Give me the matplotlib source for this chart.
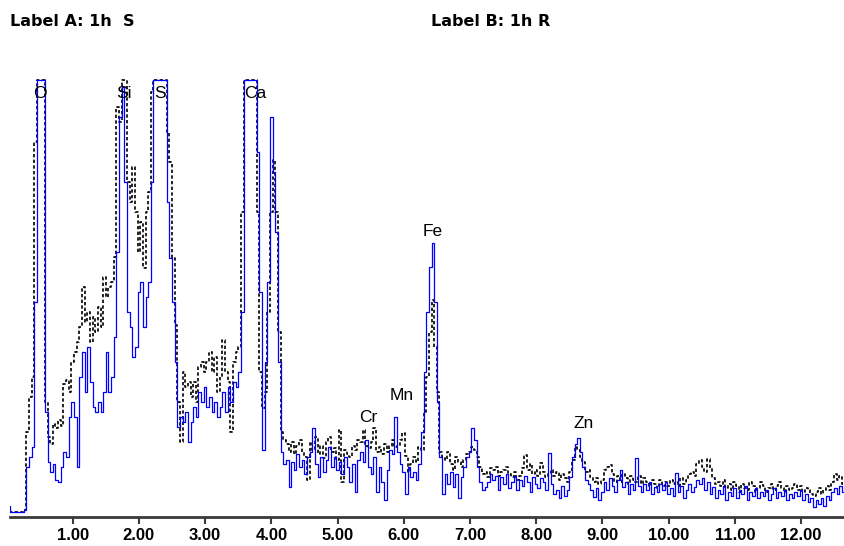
import numpy as np
import matplotlib.pyplot as plt

# --- spectrum channels ---
E_START = 0.04   # keV of first channel
E_STEP = 0.04    # keV per channel
CEIL = 432       # display ceiling, taller peaks get cut flat like the EDS screen

# counts per channel (black dashed = Label A, blue = Label B)
counts_a = [
    0, 0, 0, 0, 0, 0, 2, 80, 115, 135, 370, 1000, 1150, 1000, 110, 75, 68, 88, 84, 92, 86, 128, 132, 120, 150,
    160, 170, 185, 225, 190, 200, 170, 195, 180, 205, 185, 235, 215, 225, 230, 255, 405, 390, 520, 440, 330, 310, 345, 300, 260,
    290, 244, 300, 320, 420, 740, 800, 780, 700, 470, 380, 350, 254, 187, 110, 70, 140, 125, 130, 115, 130, 110, 145, 150, 140,
    150, 160, 140, 155, 120, 135, 172, 140, 130, 80, 150, 160, 165, 300, 700, 780, 800, 760, 620, 300, 140, 104, 120, 200, 300,
    352, 300, 180, 80, 72, 68, 60, 70, 58, 66, 72, 60, 55, 32, 70, 62, 75, 58, 66, 54, 70, 75, 60, 64, 52,
    82, 30, 62, 58, 55, 66, 62, 72, 70, 82, 66, 64, 70, 84, 60, 65, 58, 68, 60, 66, 72, 65, 66, 72, 79,
    56, 40, 48, 55, 50, 65, 62, 100, 135, 180, 212, 165, 120, 60, 55, 52, 60, 48, 42, 55, 50, 45, 52, 58, 60,
    65, 62, 55, 45, 38, 40, 35, 44, 42, 45, 36, 40, 42, 45, 38, 35, 40, 32, 36, 44, 57, 42, 48, 38, 42,
    36, 49, 40, 35, 38, 42, 36, 40, 32, 38, 34, 30, 40, 52, 65, 62, 55, 50, 40, 42, 35, 30, 34, 28, 32,
    42, 45, 47, 38, 30, 36, 30, 38, 34, 28, 36, 32, 30, 36, 28, 34, 30, 26, 32, 28, 24, 32, 26, 30, 26,
    32, 28, 30, 26, 34, 28, 32, 38, 40, 36, 48, 52, 45, 40, 53, 44, 34, 28, 30, 26, 32, 24, 28, 22, 30,
    26, 20, 28, 24, 22, 30, 26, 20, 24, 30, 26, 20, 24, 28, 22, 26, 30, 24, 20, 26, 22, 24, 28, 22, 26,
    20, 24, 22, 18, 16, 20, 24, 18, 22, 26, 22, 30, 38, 32, 36, 28,
]
counts_b = [
    6, 0, 0, 0, 0, 0, 2, 45, 55, 65, 210, 950, 1100, 980, 100, 50, 40, 48, 32, 30, 45, 60, 55, 95, 110,
    95, 45, 135, 160, 120, 165, 130, 105, 100, 110, 100, 120, 160, 120, 135, 175, 260, 395, 425, 330, 200, 185, 155, 165, 220,
    230, 185, 215, 230, 330, 780, 860, 840, 720, 460, 310, 254, 210, 150, 85, 95, 90, 100, 70, 90, 105, 95, 120, 110, 125,
    105, 115, 100, 110, 95, 105, 120, 100, 125, 110, 130, 125, 140, 200, 640, 720, 760, 700, 580, 360, 220, 62, 150, 230, 395,
    340, 280, 150, 60, 48, 52, 25, 50, 42, 58, 45, 52, 38, 55, 60, 84, 48, 35, 55, 40, 52, 65, 45, 55, 42,
    50, 38, 55, 45, 30, 48, 20, 52, 60, 50, 72, 45, 38, 55, 20, 45, 30, 12, 42, 62, 58, 95, 60, 48, 40,
    18, 45, 35, 40, 32, 48, 80, 140, 200, 245, 269, 210, 110, 55, 18, 38, 28, 40, 25, 38, 14, 35, 45, 55, 60,
    84, 72, 45, 30, 22, 25, 30, 38, 32, 36, 22, 35, 28, 38, 24, 30, 36, 22, 32, 26, 36, 30, 20, 35, 28,
    24, 34, 30, 22, 59, 28, 18, 22, 14, 26, 16, 22, 35, 55, 68, 74, 60, 45, 32, 28, 22, 15, 24, 12, 20,
    30, 22, 34, 26, 20, 32, 42, 25, 30, 18, 28, 22, 54, 26, 20, 28, 22, 30, 18, 25, 20, 28, 22, 30, 18,
    24, 16, 39, 20, 26, 14, 22, 28, 20, 25, 32, 28, 34, 22, 30, 18, 25, 14, 22, 18, 26, 12, 20, 16, 24,
    14, 22, 18, 26, 12, 20, 16, 24, 14, 20, 16, 22, 12, 18, 24, 14, 20, 16, 22, 12, 18, 14, 20, 16, 22,
    12, 18, 10, 14, 5, 12, 8, 14, 6, 16, 12, 20, 24, 18, 26, 20,
]

tick_kev = [1, 2, 3, 4, 5, 6, 7, 8, 9, 10, 11, 12]
tick_labels = ["1.00", "2.00", "3.00", "4.00", "5.00", "6.00",
               "7.00", "8.00", "9.00", "10.00", "11.00", "12.00"]

elements = ["O", "Si", "S", "Ca", "Cr", "Mn", "Fe", "Zn"]
element_kev = [0.51, 1.78, 2.32, 3.75, 5.47, 5.97, 6.44, 8.71]
element_h = [418, 418, 418, 418, 94, 116, 280, 88]

header_a = "Label A: 1h  S"
header_b = "Label B: 1h R"

# --- plot ---
energy = E_START + E_STEP * np.arange(len(counts_a))
shown_a = np.minimum(np.array(counts_a), CEIL)
shown_b = np.minimum(np.array(counts_b), CEIL)

W, H = 845, 546
fig = plt.figure(figsize=(W / 100, H / 100), dpi=100)
ax = fig.add_axes([10 / W, 29 / H, 835 / W, 439 / H])

ax.plot(energy, shown_a, color='black', lw=1.2, ls=(0, (2.0, 1.4)),
        drawstyle='steps-mid')
ax.plot(energy, shown_b, color='#0000ff', lw=0.9, drawstyle='steps-mid')

ax.set_xlim(0.053, 12.665)
ax.set_ylim(-5, 434)

for s in ['top', 'left', 'right']:
    ax.spines[s].set_visible(False)
ax.spines['bottom'].set_color('#3a3a3a')
ax.spines['bottom'].set_linewidth(2)
ax.set_yticks([])
ax.set_xticks(tick_kev)
ax.set_xticklabels(tick_labels, fontfamily=['Liberation Sans', 'DejaVu Sans'],
                   fontweight='bold', fontsize=12)
ax.tick_params(axis='x', direction='out', length=5, width=1.5, color='#3a3a3a', pad=3)

for name, kev, h in zip(elements, element_kev, element_h):
    ax.text(kev, h, name, ha='center', va='center', fontsize=12.5,
            fontfamily=['Liberation Sans', 'DejaVu Sans'], clip_on=False)

fig.text(10 / W, 1 - 22 / H, header_a, ha='left', va='center', fontsize=11.5,
         fontweight='bold', fontfamily='DejaVu Sans')
fig.text(431 / W, 1 - 22 / H, header_b, ha='left', va='center', fontsize=11.5,
         fontweight='bold', fontfamily='DejaVu Sans')

fig.savefig('out.png', dpi=100)
